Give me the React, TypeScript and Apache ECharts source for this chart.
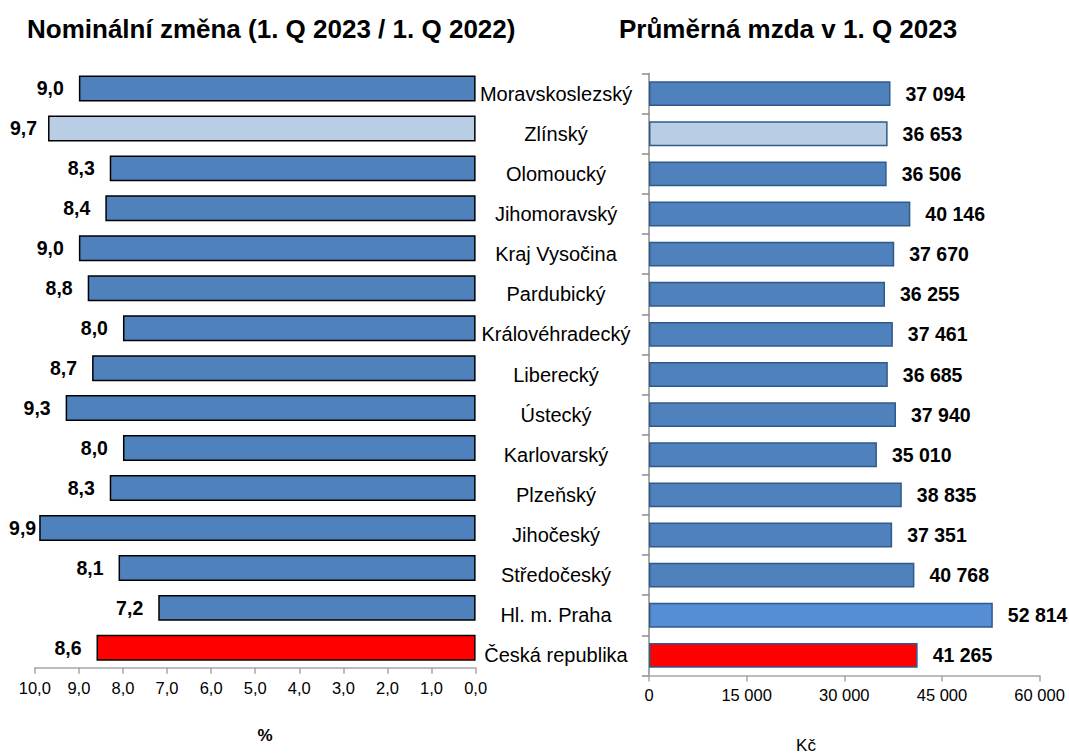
import React, { useEffect, useRef } from "react";
import * as echarts from "echarts";

const categories = [
  "Moravskoslezský",
  "Zlínský",
  "Olomoucký",
  "Jihomoravský",
  "Kraj Vysočina",
  "Pardubický",
  "Královéhradecký",
  "Liberecký",
  "Ústecký",
  "Karlovarský",
  "Plzeňský",
  "Jihočeský",
  "Středočeský",
  "Hl. m. Praha",
  "Česká republika",
];

const nominalChange = [9.0, 9.7, 8.3, 8.4, 9.0, 8.8, 8.0, 8.7, 9.3, 8.0, 8.3, 9.9, 8.1, 7.2, 8.6];
const averageWage = [37094, 36653, 36506, 40146, 37670, 36255, 37461, 36685, 37940, 35010, 38835, 37351, 40768, 52814, 41265];

const leftTitle = "Nominální změna (1. Q 2023 / 1. Q 2022)";
const rightTitle = "Průměrná mzda v 1. Q 2023";
const leftUnit = "%";
const rightUnit = "Kč";

const BLUE = "#4F81BD";
const LIGHT = "#B9CDE5";
const PRAHA = "#558ED5";
const RED = "#FF0000";

function colorFor(name: string): string {
  if (name === "Zlínský") return LIGHT;
  if (name === "Česká republika") return RED;
  return BLUE;
}

function colorForRight(name: string): string {
  if (name === "Hl. m. Praha") return PRAHA;
  return colorFor(name);
}

const fmtDec = (v: number) => v.toFixed(1).replace(".", ",");
const fmtThousands = (v: number) =>
  String(Math.round(v)).replace(/\B(?=(\d{3})+(?!\d))/g, " ");

// layout of left grid (pixels)
const L_LEFT = 34.8;
const L_RIGHT = 475.6;
const L_MAX = 10;
const LABEL_W = 27;

export default function App() {
  const ref = useRef<HTMLDivElement>(null);

  useEffect(() => {
    document.body.style.margin = "0";
    if (!ref.current) return;
    const chart = echarts.init(ref.current, undefined, { renderer: "svg" });
    const font = "Liberation Sans, Arial, sans-serif";

    const leftLabelDistance = (v: number) => {
      const barLeft = L_RIGHT - (v / L_MAX) * (L_RIGHT - L_LEFT);
      return Math.max(3, Math.min(15, barLeft - 10 - LABEL_W));
    };

    chart.setOption({
      animation: false,
      textStyle: { fontFamily: font },
      title: [
        {
          text: leftTitle,
          left: 22,
          top: 11,
          textStyle: { fontSize: 26, fontWeight: "bold", color: "#000", fontFamily: font },
        },
        {
          text: rightTitle,
          left: 614,
          top: 11,
          textStyle: { fontSize: 26, fontWeight: "bold", color: "#000", fontFamily: font },
        },
      ],
      grid: [
        { left: L_LEFT, right: 1069 - L_RIGHT, top: 68.5, bottom: 753 - 667.8 },
        { left: 649, right: 1069 - 1039.6, top: 73.5, bottom: 753 - 675.5 },
      ],
      xAxis: [
        {
          gridIndex: 0,
          type: "value",
          inverse: true,
          min: 0,
          max: L_MAX,
          interval: 1,
          splitLine: { show: false },
          axisLine: { show: true, lineStyle: { color: "#A6A6A6", width: 1.5 } },
          axisTick: { show: true, length: 6, lineStyle: { color: "#A6A6A6", width: 1.5 } },
          axisLabel: {
            formatter: (v: number) => fmtDec(v),
            fontSize: 16.5,
            color: "#000",
            margin: 12,
            fontFamily: font,
          },
        },
        {
          gridIndex: 1,
          type: "value",
          min: 0,
          max: 60000,
          interval: 15000,
          splitLine: { show: false },
          axisLine: { show: true, lineStyle: { color: "#A6A6A6", width: 1.5 } },
          axisTick: { show: true, length: 6, lineStyle: { color: "#A6A6A6", width: 1.5 } },
          axisLabel: {
            formatter: (v: number) => fmtThousands(v),
            fontSize: 16.5,
            color: "#000",
            margin: 11,
            fontFamily: font,
          },
        },
      ],
      yAxis: [
        {
          gridIndex: 0,
          type: "category",
          data: categories,
          inverse: true,
          axisLine: { show: false },
          axisTick: { show: false },
          axisLabel: { show: false },
        },
        {
          gridIndex: 1,
          type: "category",
          data: categories,
          inverse: true,
          axisLine: { show: true, lineStyle: { color: "#8C8C8C", width: 1.5 } },
          axisTick: { show: true, length: 7, lineStyle: { color: "#8C8C8C", width: 1.5 } },
          axisLabel: {
            align: "center",
            margin: 93,
            fontSize: 20,
            color: "#000",
            fontFamily: font,
          },
        },
      ],
      series: [
        {
          type: "bar",
          xAxisIndex: 0,
          yAxisIndex: 0,
          barCategoryGap: "35%",
          data: nominalChange.map((v, i) => ({
            value: v,
            itemStyle: { color: colorFor(categories[i]) },
            label: { distance: leftLabelDistance(v) },
          })),
          itemStyle: { borderColor: "#000", borderWidth: 1.5 },
          label: {
            show: true,
            position: "left",
            distance: 15,
            formatter: (p: any) => fmtDec(p.value),
            fontSize: 19.5,
            fontWeight: "bold",
            color: "#000",
            fontFamily: font,
          },
        },
        {
          type: "bar",
          xAxisIndex: 1,
          yAxisIndex: 1,
          barCategoryGap: "38%",
          data: averageWage.map((v, i) => ({
            value: v,
            itemStyle: { color: colorForRight(categories[i]) },
          })),
          itemStyle: { borderColor: "#2F5A8C", borderWidth: 1.5 },
          label: {
            show: true,
            position: "right",
            distance: 15,
            formatter: (p: any) => fmtThousands(p.value),
            fontSize: 19.5,
            fontWeight: "bold",
            color: "#000",
            fontFamily: font,
          },
        },
      ],
      graphic: [
        {
          type: "text",
          x: 265,
          y: 735,
          style: {
            text: leftUnit,
            fontSize: 17,
            fontWeight: "bold",
            fill: "#000",
            align: "center",
            verticalAlign: "middle",
            fontFamily: font,
          },
        },
        {
          type: "text",
          x: 806,
          y: 745,
          style: {
            text: rightUnit,
            fontSize: 17,
            fill: "#000",
            align: "center",
            verticalAlign: "middle",
            fontFamily: font,
          },
        },
      ],
    });

    return () => chart.dispose();
  }, []);

  return <div ref={ref} style={{ width: 1069, height: 753 }} />;
}
